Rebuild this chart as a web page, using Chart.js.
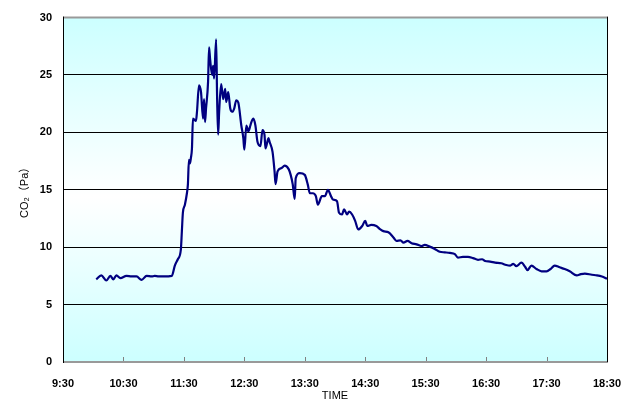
<!DOCTYPE html>
<html>
<head>
<meta charset="utf-8">
<script src="https://cdn.jsdelivr.net/npm/chart.js@4/dist/chart.umd.min.js"></script>
<style>
html,body{margin:0;padding:0;background:#fff;}
#wrap{width:638px;height:401px;position:relative;}
</style>
</head>
<body>
<div id="wrap"><canvas id="c" width="638" height="401"></canvas></div>
<script>
const times = ["10:03","10:08","10:13","10:17","10:20","10:23","10:27","10:33","10:38","10:43","10:48","10:53","10:58","11:01","11:05","11:10","11:18","11:21","11:24","11:27","11:28","11:29","11:31","11:33","11:34","11:35","11:36","11:37","11:38","11:39","11:42","11:43","11:45","11:47","11:49","11:50","11:51","11:52","11:54","11:55","11:56","11:58","11:59","12:00","12:02","12:03","12:04","12:05","12:07","12:09","12:11","12:12","12:14","12:16","12:18","12:20","12:22","12:24","12:27","12:29","12:30","12:32","12:34","12:36","12:37","12:39","12:41","12:43","12:46","12:48","12:50","12:51","12:54","12:55","12:58","13:00","13:01","13:03","13:07","13:10","13:14","13:16","13:18","13:20","13:21","13:25","13:30","13:33","13:35","13:38","13:41","13:43","13:47","13:50","13:53","13:56","13:58","14:02","14:04","14:07","14:09","14:12","14:14","14:17","14:20","14:23","14:27","14:30","14:32","14:36","14:41","14:45","14:48","14:53","14:58","15:01","15:05","15:08","15:12","15:16","15:21","15:26","15:29","15:34","15:39","15:44","15:49","15:54","15:59","16:02","16:07","16:12","16:17","16:22","16:26","16:29","16:34","16:39","16:45","16:50","16:54","16:57","17:00","17:05","17:09","17:11","17:15","17:20","17:25","17:30","17:34","17:38","17:43","17:48","17:53","18:00","18:04","18:08","18:15","18:20","18:25","18:30"];
const co2 = [7.2,7.55,7.1,7.5,7.2,7.55,7.3,7.5,7.45,7.45,7.15,7.5,7.45,7.5,7.45,7.45,7.5,8.4,8.95,9.8,11.4,13.0,13.7,14.7,15.5,17.6,17.3,17.8,18.6,21.2,21.0,21.8,24.1,23.5,21.2,22.9,20.9,22.1,24.4,27.4,26.4,25.0,25.8,24.7,28.1,22.9,19.8,21.8,24.2,22.9,23.8,22.65,23.5,22.1,21.8,22.1,22.8,22.6,20.6,19.5,18.5,20.6,20.1,20.6,20.9,21.2,20.6,19.2,18.8,20.2,19.8,18.6,19.5,19.2,18.3,16.6,15.5,16.6,16.9,17.1,16.8,16.3,15.5,14.2,16.0,16.45,16.3,15.45,14.7,14.7,14.45,13.7,14.45,14.45,15.0,14.45,14.15,14.0,13.0,12.85,13.3,12.85,13.1,12.85,12.3,11.55,11.85,12.3,11.85,11.95,11.85,11.55,11.4,11.3,10.85,10.55,10.6,10.4,10.55,10.35,10.25,10.1,10.2,10.05,9.85,9.6,9.55,9.5,9.4,9.1,9.15,9.15,9.05,8.9,8.95,8.8,8.75,8.65,8.6,8.45,8.4,8.55,8.35,8.65,8.25,8.0,8.4,8.1,7.9,7.9,8.1,8.4,8.25,8.1,7.9,7.55,7.65,7.7,7.6,7.55,7.45,7.25];
const tickLabels = ["9:30","10:30","11:30","12:30","13:30","14:30","15:30","16:30","17:30","18:30"];
const yTicks = [0,5,10,15,20,25,30];

function toMin(s){const p=s.split(":");return (+p[0])*60+(+p[1]);}
const xMin = toMin(tickLabels[0]), xMax = toMin(tickLabels[tickLabels.length-1]);
const points = times.map((t,i)=>({x:toMin(t), y:co2[i]}));

const FONT = "'Liberation Sans','Noto Sans CJK JP',sans-serif";

const bgPlugin = {
  id:'bg',
  beforeDraw(chart){
    const {ctx, chartArea:a} = chart;
    const g = ctx.createLinearGradient(0,a.top,0,a.bottom);
    g.addColorStop(0,'#ccffff');
    g.addColorStop(0.52,'#ffffff');
    g.addColorStop(1,'#ccffff');
    ctx.save(); ctx.fillStyle=g; ctx.fillRect(a.left,a.top,a.right-a.left,a.bottom-a.top); ctx.restore();
  },
  afterDatasetsDraw(chart){
    const {ctx, chartArea:a, scales:{x}} = chart;
    ctx.save();
    // tick marks inside plot
    ctx.strokeStyle='#808080'; ctx.lineWidth=1;
    tickLabels.forEach(l=>{
      const px=Math.round(x.getPixelForValue(toMin(l)))+0.5;
      ctx.beginPath(); ctx.moveTo(px,a.bottom); ctx.lineTo(px,a.bottom-5); ctx.stroke();
    });
    // borders
    ctx.strokeStyle='#999999'; ctx.lineWidth=2;
    ctx.beginPath(); ctx.moveTo(a.left,a.top); ctx.lineTo(a.right,a.top); ctx.stroke();
    ctx.beginPath(); ctx.moveTo(a.left,a.bottom); ctx.lineTo(a.right+1,a.bottom); ctx.stroke();
    ctx.strokeStyle='#000000'; ctx.lineWidth=1;
    ctx.beginPath(); ctx.moveTo(a.right+0.5,a.top-1); ctx.lineTo(a.right+0.5,a.bottom); ctx.stroke();
    ctx.beginPath(); ctx.moveTo(a.left+0.5,a.top-1); ctx.lineTo(a.left+0.5,a.bottom+1); ctx.stroke();
    ctx.restore();
  }
};

new Chart(document.getElementById('c'),{
  type:'line',
  data:{datasets:[{data:points,borderColor:'#000080',borderWidth:2.2,pointRadius:0,cubicInterpolationMode:'monotone',fill:false}]},
  options:{
    responsive:false,animation:false,
    layout:{padding:{left:0,right:31,top:15,bottom:0}},
    plugins:{legend:{display:false},tooltip:{enabled:false}},
    scales:{
      x:{type:'linear',min:xMin,max:xMax,
        afterBuildTicks(s){s.ticks=tickLabels.map(l=>({value:toMin(l)}));},
        afterFit(s){s.height=39;},
        grid:{display:false,drawTicks:false},
        border:{display:false},
        ticks:{padding:15,maxRotation:0,autoSkip:false,color:'#000',font:{family:FONT,size:11,weight:'bold'},
          callback:(v)=>{const i=tickLabels.findIndex(l=>toMin(l)===v);return i>=0?tickLabels[i]:'';}},
        title:{display:true,text:'TIME',color:'#000',font:{family:FONT,size:11,lineHeight:1},padding:{top:0,bottom:0}}
      },
      y:{min:0,max:30,
        afterBuildTicks(s){s.ticks=yTicks.map(v=>({value:v}));},
        afterFit(s){s.width=63;},
        grid:{drawTicks:false,color:(c)=>(c.tick&&(c.tick.value===0||c.tick.value===30))?'rgba(0,0,0,0)':'#000000',lineWidth:1},
        border:{display:false},
        ticks:{padding:11,color:'#000',font:{family:FONT,size:11,weight:'bold'}},
        title:{display:true,text:'CO₂（Pa）',color:'#000',font:{family:FONT,size:11},padding:{top:18,bottom:0}}
      }
    }
  },
  plugins:[bgPlugin]
});
</script>
</body>
</html>
